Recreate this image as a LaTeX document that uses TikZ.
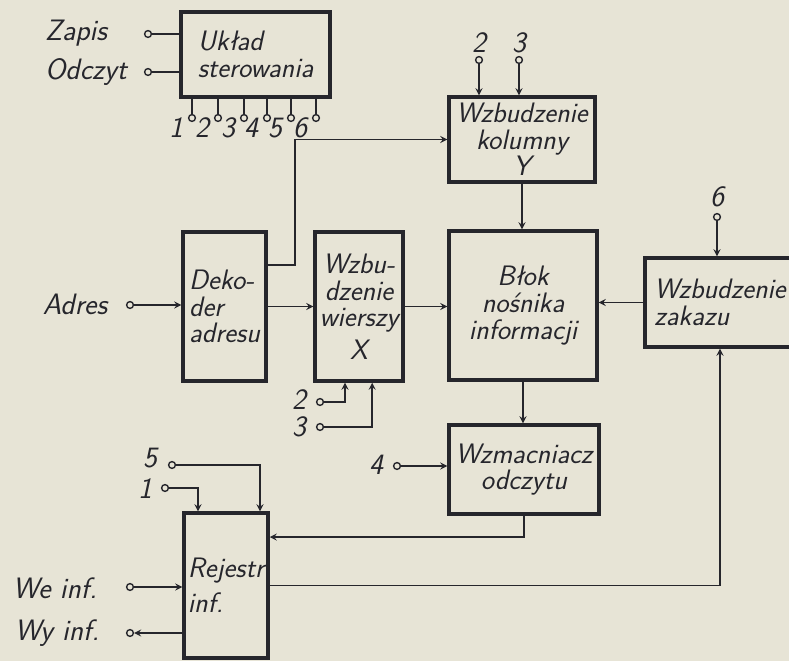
\documentclass[tikz,border=0pt]{standalone}
\usepackage{tikz}
\usetikzlibrary{calc}
\definecolor{paper}{RGB}{231,228,214}
\definecolor{ink}{RGB}{38,38,44}
\newcommand{\hand}{\sffamily\itshape\fontsize{20}{19}\selectfont}
\newcommand{\handlbl}{\sffamily\itshape\fontsize{21}{20}\selectfont}
\tikzstyle{block} = [rectangle, draw=ink, line width=2.4pt, fill=paper, text=ink, align=center, inner sep=1pt, font=\hand]
\tikzstyle{term} = [circle, draw=ink, line width=1pt, fill=paper, inner sep=0pt, minimum size=0.17cm]
\tikzstyle{lbl} = [text=ink, font=\handlbl, inner sep=0pt]
\tikzstyle{wire} = [draw=ink, line width=1.2pt]
\tikzstyle{arrow} = [wire,->,>=stealth]

\begin{document}
\begin{tikzpicture}[x=0.025cm, y=-0.025cm]
    \clip (0,0) rectangle (789,661);
    \fill[paper] (0,0) rectangle (789,661);

    % blocks
    \node (ster)[block, align=left, minimum width=3.725cm, minimum height=2.125cm] at (255.5,54.5) {Układ\\sterowania};
    \node (kol)[block, minimum width=3.65cm, minimum height=2.125cm] at (522,139.5) {Wzbudzenie\\kolumny\\Y};
    \node (dek)[block, align=left, minimum width=2.075cm, minimum height=3.725cm] at (224.5,306.5) {Deko-\\der\\adresu};
    \node (wier)[block, minimum width=2.2cm, minimum height=3.725cm] at (359,306.5) {Wzbu-\\dzenie\\wierszy\\[4pt]X};
    \node (blok)[block, minimum width=3.7cm, minimum height=3.725cm] at (523,305.5) {Błok\\nośnika\\informacji};
    \node (zak)[block, align=left, minimum width=3.75cm, minimum height=2.225cm] at (720,302.5) {Wzbudzenie\\zakazu};
    \node (wzm)[block, minimum width=3.75cm, minimum height=2.225cm] at (524,469.5) {Wzmacniacz\\odczytu};
    \node (rej)[block, align=left, minimum width=2.1cm, minimum height=3.625cm] at (226,585.5) {Rejestr\\[6pt]inf.};

    % inputs and outputs
    \node (zapis)[lbl] at (76,33) {Zapis};
    \node (tzap)[term] at (148,34) {};
    \node (odcz)[lbl] at (86,72) {Odczyt};
    \node (todcz)[term] at (148,72) {};
    \node (adr)[lbl] at (75,304) {Adres};
    \node (tadr)[term] at (130,305) {};
    \node (we)[lbl] at (55,588) {We inf.};
    \node (twe)[term] at (130,587) {};
    \node (wy)[lbl] at (57,633) {Wy inf.};
    \node (twy)[term] at (130,633) {};

    \node (nk2)[lbl] at (479,43) {2};
    \node (tk2)[term] at (479,60) {};
    \node (nk3)[lbl] at (519,43) {3};
    \node (tk3)[term] at (519,60) {};
    \node (n6)[lbl] at (717,197) {6};
    \node (t6)[term] at (717,217) {};
    \node (nw2)[lbl] at (299,400) {2};
    \node (tw2)[term] at (320,402) {};
    \node (nw3)[lbl] at (299,427) {3};
    \node (tw3)[term] at (320,427) {};
    \node (n4)[lbl] at (376,465) {4};
    \node (t4)[term] at (397,466) {};
    \node (n5)[lbl] at (150,458) {5};
    \node (t5)[term] at (172,465) {};
    \node (n1)[lbl] at (145,489) {1};
    \node (t1)[term] at (165,488) {};

    \foreach \i/\x in {1/192,2/218,3/244,4/267,5/291,6/316}{
      \node (p\i)[term] at (\x,118) {};
      \node (np\i)[lbl] at (\x-16,128) {\i};
      \draw[wire] (p\i) -- (p\i |- ster.south);
    }

    \draw[wire] (tzap) -- (tzap -| ster.west);
    \draw[wire] (todcz) -- (todcz -| ster.west);
    \draw[arrow] (tk2) -- (tk2 |- kol.north);
    \draw[arrow] (tk3) -- (tk3 |- kol.north);
    \draw[arrow] ([yshift=1.04cm]dek.east) -- ++(27,0) |- (kol.west);
    \draw[arrow] (kol.south) -- (kol.south |- blok.north);
    \draw[arrow] (tadr) -- (tadr -| dek.west);
    \draw[arrow] (dek.east) -- (wier.west);
    \draw[arrow] (wier.east) -- (wier.east -| blok.west);
    \draw[arrow] (t6) -- (t6 |- zak.north);
    \draw[arrow] (zak.west) -- (zak.west -| blok.east);
    \draw[arrow] (tw2) -| ([xshift=-0.35cm]wier.south);
    \draw[arrow] (tw3) -| ([xshift=0.33cm]wier.south);
    \draw[arrow] (blok.south) -- (blok.south |- wzm.north);
    \draw[arrow] (t4) -- (t4 -| wzm.west);
    \draw[arrow] (wzm.south) |- ([yshift=1.21cm]rej.east);
    \draw[arrow] (rej.east) -| (zak.south);
    \draw[arrow] (t5) -| ([xshift=0.85cm]rej.north);
    \draw[arrow] (t1) -| ([xshift=-0.7cm]rej.north);
    \draw[arrow] (twe) -- (twe -| rej.west);
    \draw[arrow] (twy -| rej.west) -- (twy);
\end{tikzpicture}
\end{document}
